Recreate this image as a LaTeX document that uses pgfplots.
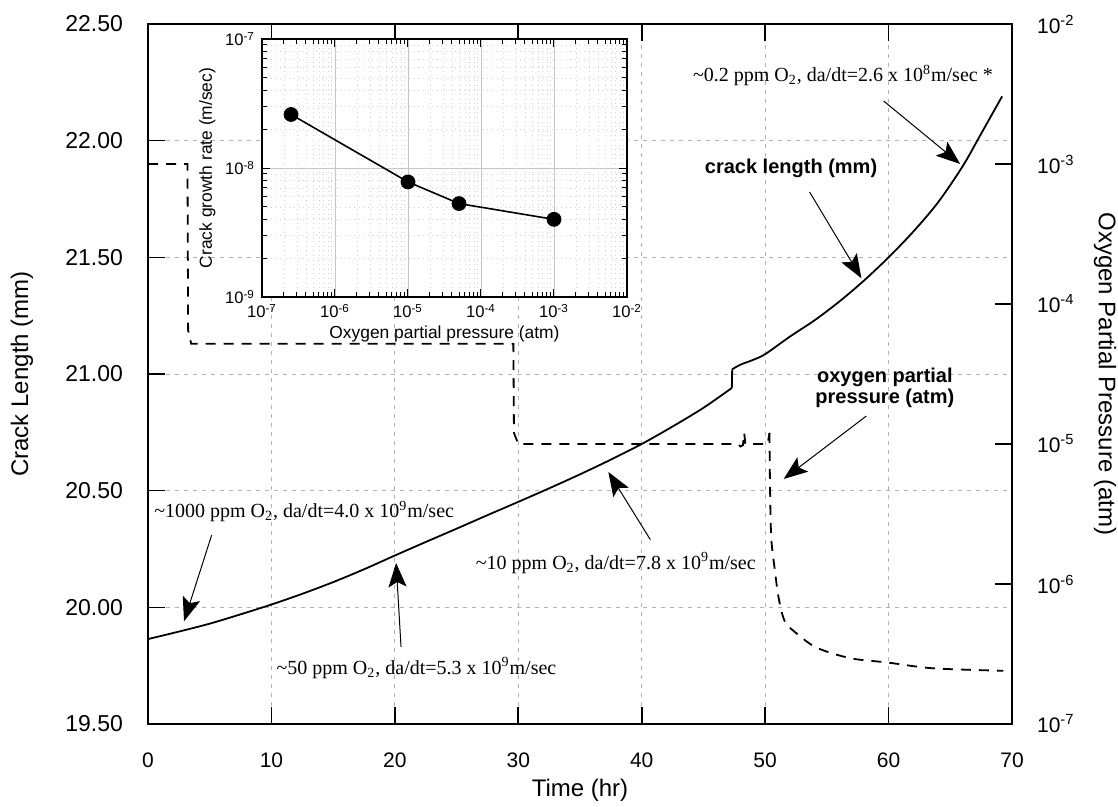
\documentclass[border=0pt]{standalone}
\usepackage{fontspec}
\setmainfont{Liberation Sans}
\newfontfamily\annfont{Liberation Serif}
\usepackage{pgfplots}
\pgfplotsset{compat=1.18}
\usetikzlibrary{arrows.meta,calc}

\newcommand{\spx}[1]{\textsuperscript{#1}}
\newcommand{\tickfont}{\fontsize{10.5}{12}\selectfont}
\newcommand{\ytickfont}{\fontsize{11.5}{13}\selectfont}
\newcommand{\labelfont}{\fontsize{12}{14}\selectfont}
\newcommand{\notefont}{\annfont\fontsize{10}{12}\selectfont}
\newcommand{\boldnote}{\bfseries\fontsize{10}{12}\selectfont}
\tikzset{note arrow/.style={line width=0.5pt,-{Stealth[length=12pt,width=9pt,inset=2.5pt]}}}

\begin{document}
\begin{tikzpicture}
% crack length (left axis)
\begin{axis}[
  name=main, at={(0,0)}, anchor=south west,
  width=432pt, height=350pt, scale only axis,
  xmin=0, xmax=70, ymin=19.5, ymax=22.5,
  xtick={0,10,20,30,40,50,60,70},
  ytick={19.5,20,20.5,21,21.5,22,22.5},
  ytick pos=left,
  tick align=inside,
  major tick length=8.5pt,
  every tick/.style={black, line width=0.8pt},
  axis line style={line width=0.9pt},
  grid=major,
  major grid style={gray!60, line width=0.4pt, dash pattern=on 2pt off 2.5pt},
  ticklabel style={font=\tickfont},
  /pgf/number format/assume math mode=true,
  yticklabel style={font=\ytickfont, /pgf/number format/fixed, /pgf/number format/fixed zerofill,
    /pgf/number format/precision=2, xshift=-9pt},
  xticklabel style={yshift=-11pt},
  clip=false,
]
% before the step at 47.3 h
\addplot[black, line width=0.9pt, smooth] coordinates {
  (0,19.864) (2.5,19.896) (5,19.930) (7.5,19.970) (10,20.012)
  (12.5,20.058) (15,20.108) (17.5,20.163) (20,20.222) (22.5,20.280)
  (25,20.337) (27.5,20.395) (30,20.452) (32.5,20.510) (35,20.570)
  (37.5,20.633) (40,20.700) (42.5,20.775) (45,20.855) (47.3,20.940)
};
\addplot[black, line width=0.9pt] coordinates {(47.3,20.940) (47.33,21.020)};
% after the step
\addplot[black, line width=0.9pt, smooth] coordinates {
  (47.33,21.020) (48,21.040) (49,21.060) (50,21.085)
  (52,21.160) (54,21.230) (56,21.310) (58,21.400) (60,21.500)
  (62,21.610) (64,21.735) (66,21.890) (67.5,22.030) (69.2,22.190)
};

% annotations
\node[font=\notefont] at (axis cs:56.3,22.28)
  {\textasciitilde0.2 ppm O\textsubscript{2}, da/dt=2.6 x 10\spx{8}m/sec *};
\draw[note arrow] (axis cs:59.6,22.17) -- (axis cs:65.8,21.90);

\node[font=\boldnote] at (axis cs:52.1,21.88) {crack length (mm)};
\draw[note arrow] (axis cs:53.6,21.78) -- (axis cs:57.8,21.41);

\node[font=\boldnote, align=center] at (axis cs:59.7,20.94)
  {oxygen partial\\[-1.5pt]pressure (atm)};
\draw[note arrow] (axis cs:58.2,20.82) -- (axis cs:51.5,20.55);

\node[font=\notefont] at (axis cs:12.65,20.41)
  {\textasciitilde1000 ppm O\textsubscript{2}, da/dt=4.0 x 10\spx{9}m/sec};
\draw[note arrow] (axis cs:5.16,20.31) -- (axis cs:2.92,19.94);

\node[font=\notefont] at (axis cs:21.75,19.74)
  {\textasciitilde50 ppm O\textsubscript{2}, da/dt=5.3 x 10\spx{9}m/sec};
\draw[note arrow] (axis cs:20.5,19.83) -- (axis cs:20.1,20.19);

\node[font=\notefont] at (axis cs:37.9,20.19)
  {\textasciitilde10 ppm O\textsubscript{2}, da/dt=7.8 x 10\spx{9}m/sec};
\draw[note arrow] (axis cs:40.7,20.29) -- (axis cs:37.3,20.58);
\end{axis}

% oxygen partial pressure (right axis)
\begin{axis}[
  at={(0,0)}, anchor=south west,
  width=432pt, height=350pt, scale only axis,
  xmin=0, xmax=70, ymode=log, ymin=1e-7, ymax=1e-2,
  hide x axis, axis y line*=right,
  ytick={1e-7,1e-6,1e-5,1e-4,1e-3,1e-2},
  yticklabels={10\spx{-7},10\spx{-6},10\spx{-5},10\spx{-4},10\spx{-3},10\spx{-2}},
  yminorticks=false,
  tick align=inside, major tick length=8.5pt,
  every tick/.style={black, line width=0.8pt},
  axis line style={line width=0.9pt},
  ticklabel style={font=\tickfont},
  yticklabel style={xshift=9pt},
]
\addplot[black, line width=0.9pt, dash pattern=on 5pt off 4pt] coordinates {
  (0,1.0e-3) (3.2,1.0e-3) (3.25,6.5e-5) (3.5,5.2e-5) (29.6,5.2e-5)
  (29.65,1.2e-5) (30.0,1.0e-5) (47.8,1.0e-5) (48.0,9.6e-6) (48.2,9.8e-6)
  (48.3,1.2e-5) (48.4,1.0e-5) (50.2,1.0e-5) (50.35,1.2e-5)
};
\addplot[black, line width=0.9pt, dash pattern=on 5pt off 4pt, smooth] coordinates {
  (50.35,1.2e-5) (50.4,4.6e-6) (50.5,2.1e-6) (50.8,1.23e-6) (51.1,7.9e-7)
  (51.6,5.4e-7) (52.6,4.4e-7) (54.2,3.5e-7) (56.9,2.95e-7) (59.9,2.75e-7)
  (63.6,2.5e-7) (69.3,2.4e-7)
};
\end{axis}

% inset: crack growth rate vs oxygen partial pressure
\begin{axis}[
  name=inset,
  at={($(main.north west)+(57pt,-7.5pt)$)}, anchor=north west,
  width=182.5pt, height=129pt, scale only axis,
  xmode=log, ymode=log,
  xmin=1e-7, xmax=1e-2, ymin=1e-9, ymax=1e-7,
  xtick={1e-7,1e-6,1e-5,1e-4,1e-3,1e-2},
  xticklabels={10\spx{-7},10\spx{-6},10\spx{-5},10\spx{-4},10\spx{-3},10\spx{-2}},
  ytick={1e-9,1e-8,1e-7},
  yticklabels={10\spx{-9},10\spx{-8},10\spx{-7}},
  tick align=inside,
  major tick length=4pt, minor tick length=2.5pt,
  every tick/.style={black, line width=0.5pt},
  axis line style={line width=0.8pt},
  grid=both,
  major grid style={gray!45, line width=0.35pt},
  minor grid style={gray!35, line width=0.3pt, dotted},
  axis background/.style={fill=white},
  ticklabel style={font=\fontsize{8.3}{9}\selectfont},
  label style={font=\fontsize{8.7}{10}\selectfont},
  xlabel={Oxygen partial pressure (atm)},
  ylabel={Crack growth rate (m/sec)},
  xlabel style={yshift=3pt},
  ylabel style={yshift=-2pt},
]
\addplot[black, line width=0.8pt, mark=*, mark size=3.3pt] coordinates {
  (2.5e-7,2.6e-8) (1e-5,7.8e-9) (5e-5,5.3e-9) (1e-3,4.0e-9)
};
\end{axis}

% axis titles
\node[rotate=90, font=\labelfont] at ($(main.west)+(-63pt,0)$) {Crack Length (mm)};
\node[font=\labelfont] at ($(main.south)+(0,-33pt)$) {Time (hr)};
\node[rotate=-90, font=\labelfont] at ($(main.east)+(46.5pt,0)$) {Oxygen Partial Pressure (atm)};

\pgfresetboundingbox
\path ([shift={(-74pt,-41.5pt)}]main.south west) rectangle ([shift={(53pt,12pt)}]main.north east);
\end{tikzpicture}
\end{document}
